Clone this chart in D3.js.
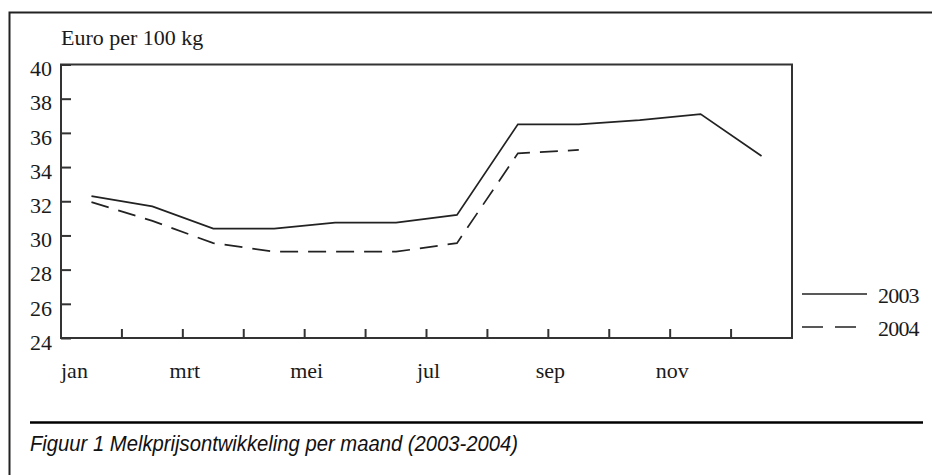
<!DOCTYPE html>
<html>
<head>
<meta charset="utf-8">
<script src="https://cdn.jsdelivr.net/npm/d3@7"></script>
<style>
  body { margin: 0; background: #fff; }
  svg { display: block; }
  .serif { font-family: "Liberation Serif", "DejaVu Serif", serif; fill: #1a1a1a; }
</style>
</head>
<body>
<svg width="932" height="475"></svg>
<script>
// chart data
var months = ["jan", "feb", "mrt", "apr", "mei", "jun", "jul", "aug", "sep", "okt", "nov", "dec"];
var monthLabels = ["jan", "mrt", "mei", "jul", "sep", "nov"];
var values2003 = [32.3, 31.7, 30.4, 30.4, 30.75, 30.75, 31.2, 36.5, 36.5, 36.75, 37.1, 34.65];
var values2004 = [31.95, 30.85, 29.55, 29.05, 29.05, 29.05, 29.55, 34.8, 35.0];
var yTicks = [24, 26, 28, 30, 32, 34, 36, 38, 40];
var seriesNames = ["2003", "2004"];

var margin = { top: 64.5, left: 61, right: 140, bottom: 137 };
var width = 932 - margin.left - margin.right;   // 731
var height = 475 - margin.top - margin.bottom;  // 273.5

var svg = d3.select("svg");

// outer frame (top + left only)
svg.append("path")
    .attr("d", "M9.5,475 L9.5,12.5 L932,12.5")
    .attr("fill", "none")
    .attr("stroke", "#222")
    .attr("stroke-width", 2);

var g = svg.append("g")
    .attr("transform", "translate(" + margin.left + "," + margin.top + ")");

var x = d3.scaleBand().domain(months).range([0, width]);
var y = d3.scaleLinear().domain([24, 40]).range([height, 0]);

// plot box
g.append("rect")
    .attr("x", 0).attr("y", 0)
    .attr("width", width).attr("height", height)
    .attr("fill", "none")
    .attr("stroke", "#333")
    .attr("stroke-width", 2);

// y axis: inward ticks
var yAxis = g.append("g")
    .call(d3.axisRight(y).tickValues(yTicks).tickSize(10).tickFormat(""));
yAxis.select(".domain").remove();
yAxis.selectAll("line").attr("stroke", "#333").attr("stroke-width", 2);

g.selectAll(".ylab")
    .data(yTicks)
    .enter().append("text")
    .attr("class", "ylab serif")
    .attr("x", -9)
    .attr("y", function (d) { return y(d) + 4; })
    .attr("dy", "0.35em")
    .attr("text-anchor", "end")
    .style("font-size", "22px")
    .text(function (d) { return d; });

// x axis: ticks at month boundaries, pointing up
var bounds = months.slice(1).map(function (m) { return x(m); });
g.selectAll(".xtick")
    .data(bounds)
    .enter().append("line")
    .attr("class", "xtick")
    .attr("x1", function (d) { return d; })
    .attr("x2", function (d) { return d; })
    .attr("y1", height)
    .attr("y2", height - 9)
    .attr("stroke", "#333")
    .attr("stroke-width", 2);

g.selectAll(".xlab")
    .data(monthLabels)
    .enter().append("text")
    .attr("class", "xlab serif")
    .attr("x", function (d) { return d === "jan" ? 0 : x(d) + 2; })
    .attr("y", height + 40)
    .attr("text-anchor", function (d) { return d === "jan" ? "start" : "middle"; })
    .style("font-size", "22px")
    .text(function (d) { return d; });

// y axis title
svg.append("text")
    .attr("class", "serif")
    .attr("x", 61)
    .attr("y", 45)
    .style("font-size", "22px")
    .text("Euro per 100 kg");

// lines
var line = d3.line()
    .x(function (d, i) { return x(months[i]) + x.bandwidth() / 2; })
    .y(function (d) { return y(d); });

g.append("path")
    .datum(values2003)
    .attr("fill", "none")
    .attr("stroke", "#222")
    .attr("stroke-width", 1.7)
    .attr("d", line);

g.append("path")
    .datum(values2004)
    .attr("fill", "none")
    .attr("stroke", "#222")
    .attr("stroke-width", 1.7)
    .attr("stroke-dasharray", "18,10")
    .attr("d", line);

// legend
var legend = svg.append("g").attr("transform", "translate(802,294)");
legend.selectAll("line")
    .data(seriesNames)
    .enter().append("line")
    .attr("x1", 0)
    .attr("x2", 65)
    .attr("y1", function (d, i) { return i * 33; })
    .attr("y2", function (d, i) { return i * 33; })
    .attr("stroke", "#222")
    .attr("stroke-width", 1.7)
    .attr("stroke-dasharray", function (d, i) { return i === 0 ? null : "21,12"; });
legend.selectAll("text")
    .data(seriesNames)
    .enter().append("text")
    .attr("class", "serif")
    .attr("x", 76)
    .attr("y", function (d, i) { return i * 33 + 9; })
    .style("font-size", "22px")
    .style("letter-spacing", "-0.8px")
    .text(function (d) { return d; });

// caption
svg.append("line")
    .attr("x1", 30).attr("x2", 923)
    .attr("y1", 422.5).attr("y2", 422.5)
    .attr("stroke", "#000")
    .attr("stroke-width", 2.5);

svg.append("text")
    .attr("x", 30)
    .attr("y", 451)
    .attr("textLength", 488)
    .attr("lengthAdjust", "spacingAndGlyphs")
    .style("font-family", "'Liberation Sans Narrow', 'Liberation Sans', sans-serif")
    .style("font-style", "italic")
    .style("font-size", "22px")
    .style("fill", "#111")
    .text("Figuur 1 Melkprijsontwikkeling per maand (2003-2004)");
</script>
</body>
</html>
